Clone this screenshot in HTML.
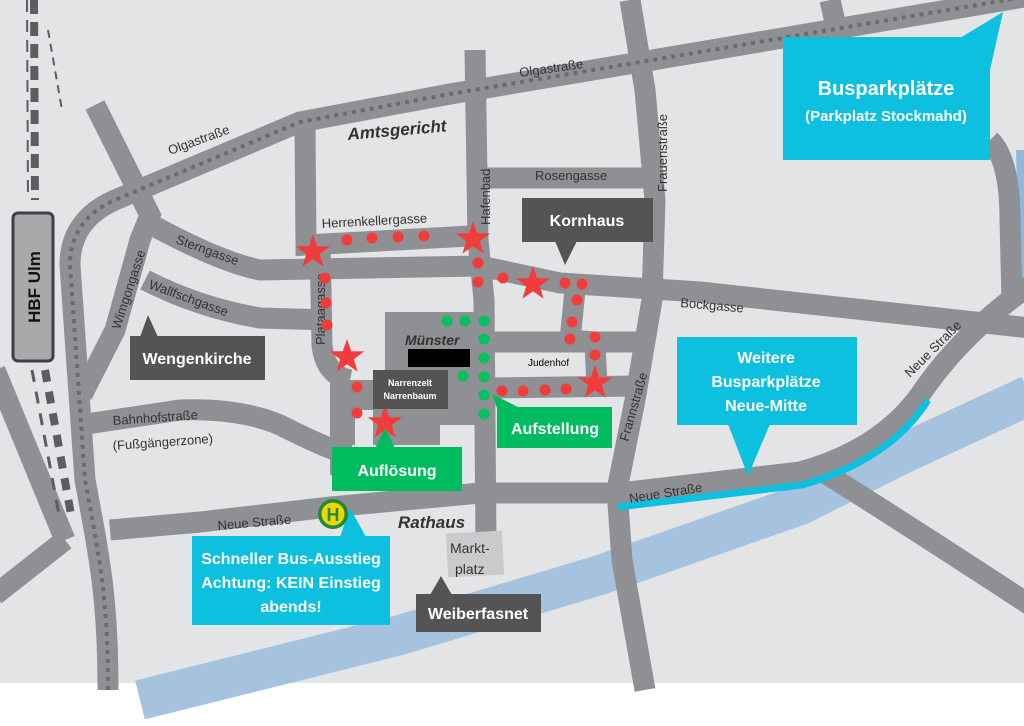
<!DOCTYPE html>
<html><head><meta charset="utf-8"><style>
body{margin:0;background:#fff}
svg{display:block}
text{font-family:"Liberation Sans",sans-serif}
.st{font-size:13px;fill:#333}
.bw{font-weight:bold;fill:#fff}
</style></head><body>
<svg width="1024" height="726" viewBox="0 0 1024 726" xmlns="http://www.w3.org/2000/svg">
<rect x="0" y="0" width="1024" height="683" fill="#e3e4e6"/>
<path d="M140,700 L400,635 L600,575 L800,505 L900,455 L1030,395" stroke="#a5c3de" stroke-width="40" fill="none"/>
<path d="M1016,150 L1024,150 L1024,300 L1020,300 Z" fill="#8fb8dd"/>
<g stroke="#8f9093" fill="none" stroke-width="21">
<path d="M-5,370 L65,540"/>
<path d="M65,540 L-5,595"/>
<path d="M108,690 C108,600 100,560 85,480 L70,265 Q70,220 115,200 L300,122 L450,94 L700,52 L1030,-4"/>
<path d="M95,105 L150,215 L140,240 L115,330 L82,395"/>
<path d="M152,225 Q220,262 260,270 L480,266 L560,283 L700,292 L1030,328"/>
<path d="M145,280 Q200,308 260,318 L330,320"/>
<path d="M305,128 L306,245 L470,236"/>
<path d="M320,240 L322,345 Q325,375 350,380"/>
<path d="M475,50 L478,240 L484,300 L486,545"/>
<path d="M630,0 L645,90 L655,200 L652,300 L635,400 L617,490 L622,560 L645,690"/>
<path d="M485,178 L650,178"/>
<path d="M485,342 L645,342"/>
<path d="M485,388 L640,386"/>
<path d="M575,290 L570,340 L595,342 L597,388"/>
<path d="M80,425 L180,410 Q240,408 280,425 Q320,445 335,450"/>
<path d="M110,530 L200,522 L330,507 L480,493 L620,493 L800,472 Q880,450 920,395 Q960,335 1030,285"/>
<path d="M990,140 Q1010,160 1010,220 L1012,300"/>
<path d="M820,470 Q900,520 1030,605"/>
<path d="M830,0 L835,22"/>
</g>
<path d="M385,312 L475,312 L475,425 L440,425 L440,445 L352,445 L352,475 L330,475 L330,380 L385,380 Z" fill="#8f9093"/>
<rect x="355" y="410" width="18" height="35" fill="#e3e4e6"/>
<rect x="447" y="532" width="56" height="44" fill="#c9cacc" transform="rotate(-3 475 554)"/>
<path d="M618,507 L802,485 Q890,460 928,400" stroke="#0dc0df" stroke-width="7" fill="none"/>
<path d="M108,690 C108,600 100,560 85,480 L70,265 Q70,220 115,200 L300,122 L450,94 L700,52 L1030,-4" stroke="#6a6b6e" stroke-width="4" stroke-dasharray="4,5" fill="none"/>
<g stroke="#5c5d60" fill="none">
<path d="M27,0 L28,200" stroke-width="2" stroke-dasharray="12,8"/>
<path d="M34,0 L35,200" stroke-width="8" stroke-dasharray="14,8"/>
<path d="M48,30 L62,110" stroke-width="2" stroke-dasharray="8,6"/>
<path d="M32,370 L60,520" stroke-width="3" stroke-dasharray="12,10"/>
<path d="M45,370 L72,520" stroke-width="8" stroke-dasharray="12,10"/>
</g>
<rect x="13" y="213" width="40" height="148" rx="5" fill="#a8a9ab" stroke="#3f4044" stroke-width="3"/>
<text transform="translate(40,287) rotate(-90)" text-anchor="middle" font-size="17" font-weight="bold" fill="#111">HBF Ulm</text>
<text class="st" transform="translate(170,155) rotate(-20)">Olgastraße</text>
<text class="st" transform="translate(520,77) rotate(-8)">Olgastraße</text>
<text class="st" transform="translate(322,228) rotate(-3)">Herrenkellergasse</text>
<text class="st" transform="translate(490,225) rotate(-90)">Hafenbad</text>
<text class="st" x="535" y="180">Rosengasse</text>
<text class="st" transform="translate(667,192) rotate(-90)">Frauenstraße</text>
<text class="st" transform="translate(175,243) rotate(20)">Sterngasse</text>
<text class="st" transform="translate(148,288) rotate(20)">Wallfschgasse</text>
<text class="st" transform="translate(120,330) rotate(-72)">Wimgongasse</text>
<text class="st" transform="translate(325,345) rotate(-90)">Plataagasse</text>
<text class="st" transform="translate(680,307) rotate(5)">Bockgasse</text>
<text class="st" transform="translate(628,442) rotate(-74)">Frannstraße</text>
<text class="st" transform="translate(630,503) rotate(-9)">Neue Straße</text>
<text class="st" transform="translate(910,378) rotate(-45)">Neue Straße</text>
<text class="st" transform="translate(218,530) rotate(-5)">Neue Straße</text>
<text class="st" transform="translate(113,425) rotate(-4)">Bahnhofstraße</text>
<text class="st" transform="translate(113,450) rotate(-4)">(Fußgängerzone)</text>
<text transform="translate(348,140) rotate(-5)" font-size="17" font-weight="bold" font-style="italic" fill="#333">Amtsgericht</text>
<text x="405" y="345" font-size="14" font-weight="bold" font-style="italic" fill="#333">Münster</text>
<text x="398" y="528" font-size="17" font-weight="bold" font-style="italic" fill="#333">Rathaus</text>
<text x="450" y="553" font-size="14" fill="#333">Markt-</text>
<text x="455" y="574" font-size="14" fill="#333">platz</text>
<text x="528" y="366" font-size="10" fill="#000">Judenhof</text>
<rect x="408" y="349" width="62" height="18" fill="#000"/>
<g fill="#00c060">
<circle cx="447" cy="321" r="5.5"/><circle cx="465" cy="321" r="5.5"/><circle cx="484" cy="321" r="5.5"/>
<circle cx="484" cy="339" r="5.5"/><circle cx="484" cy="358" r="5.5"/><circle cx="484" cy="377" r="5.5"/>
<circle cx="484" cy="395" r="5.5"/><circle cx="484" cy="414" r="5.5"/><circle cx="463" cy="376" r="5.5"/>
</g>
<g fill="#f23c3c">
<circle cx="347" cy="240" r="5.5"/><circle cx="372" cy="238" r="5.5"/><circle cx="398" cy="237" r="5.5"/><circle cx="424" cy="236" r="5.5"/>
<circle cx="325" cy="278" r="5.5"/><circle cx="326" cy="303" r="5.5"/><circle cx="327" cy="325" r="5.5"/>
<circle cx="357" cy="387" r="5.5"/><circle cx="357" cy="413" r="5.5"/>
<circle cx="478" cy="263" r="5.5"/><circle cx="478" cy="282" r="5.5"/><circle cx="503" cy="278" r="5.5"/>
<circle cx="565" cy="283" r="5.5"/><circle cx="582" cy="284" r="5.5"/><circle cx="577" cy="300" r="5.5"/>
<circle cx="572" cy="322" r="5.5"/><circle cx="570" cy="339" r="5.5"/><circle cx="595" cy="337" r="5.5"/><circle cx="595" cy="355" r="5.5"/>
<circle cx="502" cy="391" r="5.5"/><circle cx="523" cy="391" r="5.5"/><circle cx="545" cy="390" r="5.5"/><circle cx="566" cy="389" r="5.5"/>
</g>
<defs><polygon id="star" points="0,-18 4.2,-5.8 17.1,-5.6 6.8,2.2 10.6,14.6 0,7.2 -10.6,14.6 -6.8,2.2 -17.1,-5.6 -4.2,-5.8" fill="#f23c3c"/></defs>
<use href="#star" x="313" y="252"/><use href="#star" x="473" y="239"/><use href="#star" x="533" y="284"/>
<use href="#star" x="347" y="357"/><use href="#star" x="595" y="383"/><use href="#star" x="385" y="423"/>
<g fill="#0dc0df">
<rect x="783" y="37" width="207" height="123"/><polygon points="960,38 1003,12 990,70"/>
<rect x="677" y="337" width="180" height="88"/><polygon points="728,424 770,424 748,476"/>
<rect x="192" y="536" width="198" height="89"/><polygon points="340,537 366,537 350,508"/>
</g>
<text class="bw" x="886" y="95" font-size="20" text-anchor="middle">Busparkplätze</text>
<text class="bw" x="886" y="121" font-size="15" text-anchor="middle">(Parkplatz Stockmahd)</text>
<text class="bw" x="766" y="363" font-size="16" text-anchor="middle">Weitere</text>
<text class="bw" x="766" y="387" font-size="16" text-anchor="middle">Busparkplätze</text>
<text class="bw" x="766" y="411" font-size="16" text-anchor="middle">Neue-Mitte</text>
<text class="bw" x="291" y="564" font-size="16" text-anchor="middle">Schneller Bus-Ausstieg</text>
<text class="bw" x="291" y="588" font-size="16" text-anchor="middle">Achtung: KEIN Einstieg</text>
<text class="bw" x="291" y="612" font-size="16" text-anchor="middle">abends!</text>
<g fill="#545454">
<rect x="522" y="198" width="131" height="44"/><polygon points="555,241 577,241 565,265"/>
<rect x="130" y="336" width="135" height="44"/><polygon points="140,337 158,337 148,315"/>
<rect x="416" y="594" width="125" height="38"/><polygon points="430,595 452,595 441,576"/>
<rect x="373" y="370" width="75" height="39"/>
</g>
<text class="bw" x="587" y="226" font-size="16" text-anchor="middle">Kornhaus</text>
<text class="bw" x="197" y="364" font-size="16" text-anchor="middle">Wengenkirche</text>
<text class="bw" x="478" y="619" font-size="16" text-anchor="middle">Weiberfasnet</text>
<text class="bw" x="410" y="386" font-size="9" text-anchor="middle">Narrenzelt</text>
<text class="bw" x="410" y="399" font-size="9" text-anchor="middle">Narrenbaum</text>
<g fill="#00bc5f">
<rect x="497" y="407" width="115" height="41"/><polygon points="497,408 520,408 492,394"/>
<rect x="332" y="447" width="130" height="44"/><polygon points="375,448 395,448 385,428"/>
</g>
<text class="bw" x="555" y="434" font-size="16" text-anchor="middle">Aufstellung</text>
<text class="bw" x="397" y="476" font-size="16" text-anchor="middle">Auflösung</text>
<circle cx="333" cy="514" r="15" fill="#1d8a3a"/>
<circle cx="333" cy="514" r="11.5" fill="#f2d600"/>
<text x="333" y="521" font-size="18" font-weight="bold" fill="#1d8a3a" text-anchor="middle">H</text>
</svg>
</body></html>
